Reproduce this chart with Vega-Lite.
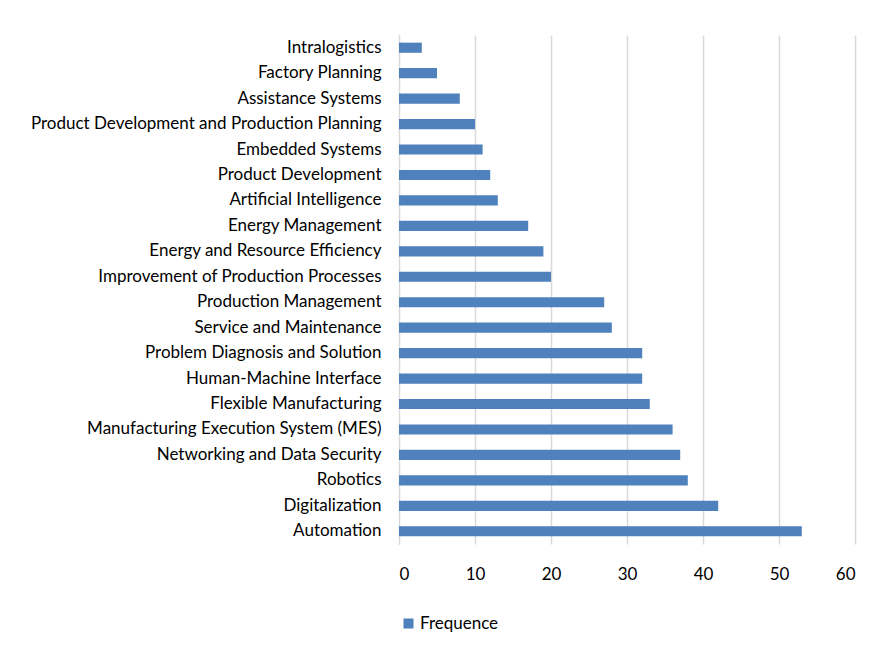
{
  "$schema": "https://vega.github.io/schema/vega-lite/v6.json",
  "width": 456,
  "height": 509,
  "autosize": "none",
  "padding": {"left": 399, "top": 35, "right": 19, "bottom": 102},
  "background": "white",
  "data": {
    "values": [
      {"topic": "Intralogistics", "value": 3, "series": "Frequence"},
      {"topic": "Factory Planning", "value": 5, "series": "Frequence"},
      {"topic": "Assistance Systems", "value": 8, "series": "Frequence"},
      {"topic": "Product Development and Production Planning", "value": 10, "series": "Frequence"},
      {"topic": "Embedded Systems", "value": 11, "series": "Frequence"},
      {"topic": "Product Development", "value": 12, "series": "Frequence"},
      {"topic": "Artificial Intelligence", "value": 13, "series": "Frequence"},
      {"topic": "Energy Management", "value": 17, "series": "Frequence"},
      {"topic": "Energy and Resource Efficiency", "value": 19, "series": "Frequence"},
      {"topic": "Improvement of Production Processes", "value": 20, "series": "Frequence"},
      {"topic": "Production Management", "value": 27, "series": "Frequence"},
      {"topic": "Service and Maintenance", "value": 28, "series": "Frequence"},
      {"topic": "Problem Diagnosis and Solution", "value": 32, "series": "Frequence"},
      {"topic": "Human-Machine Interface", "value": 32, "series": "Frequence"},
      {"topic": "Flexible Manufacturing", "value": 33, "series": "Frequence"},
      {"topic": "Manufacturing Execution System (MES)", "value": 36, "series": "Frequence"},
      {"topic": "Networking and Data Security", "value": 37, "series": "Frequence"},
      {"topic": "Robotics", "value": 38, "series": "Frequence"},
      {"topic": "Digitalization", "value": 42, "series": "Frequence"},
      {"topic": "Automation", "value": 53, "series": "Frequence"}
    ]
  },
  "mark": {"type": "bar"},
  "encoding": {
    "y": {
      "field": "topic",
      "type": "nominal",
      "sort": null,
      "scale": {"paddingInner": 0.6, "paddingOuter": 0.3},
      "axis": {
        "title": null,
        "ticks": false,
        "domain": true,
        "domainColor": "#d9d9d9",
        "labelPadding": 18,
        "labelFont": "Lato",
        "labelFontSize": 17,
        "labelColor": "#000000",
        "labelLimit": 400
      }
    },
    "x": {
      "field": "value",
      "type": "quantitative",
      "scale": {"domain": [0, 60], "nice": false},
      "axis": {
        "title": null,
        "values": [0, 10, 20, 30, 40, 50, 60],
        "ticks": false,
        "domain": false,
        "grid": true,
        "gridColor": "#d9d9d9",
        "gridWidth": 1.5,
        "labelPadding": 22,
        "labelFont": "Lato",
        "labelFontSize": 17,
        "labelColor": "#000000"
      }
    },
    "color": {
      "field": "series",
      "type": "nominal",
      "scale": {"range": ["#4f81bd"]},
      "legend": {
        "title": null,
        "orient": "none",
        "legendX": 1,
        "legendY": 580,
        "symbolType": "square",
        "symbolSize": 100,
        "labelFont": "Lato",
        "labelFontSize": 17,
        "labelColor": "#000000",
        "labelOffset": 3
      }
    }
  },
  "config": {
    "view": {"stroke": null}
  }
}
